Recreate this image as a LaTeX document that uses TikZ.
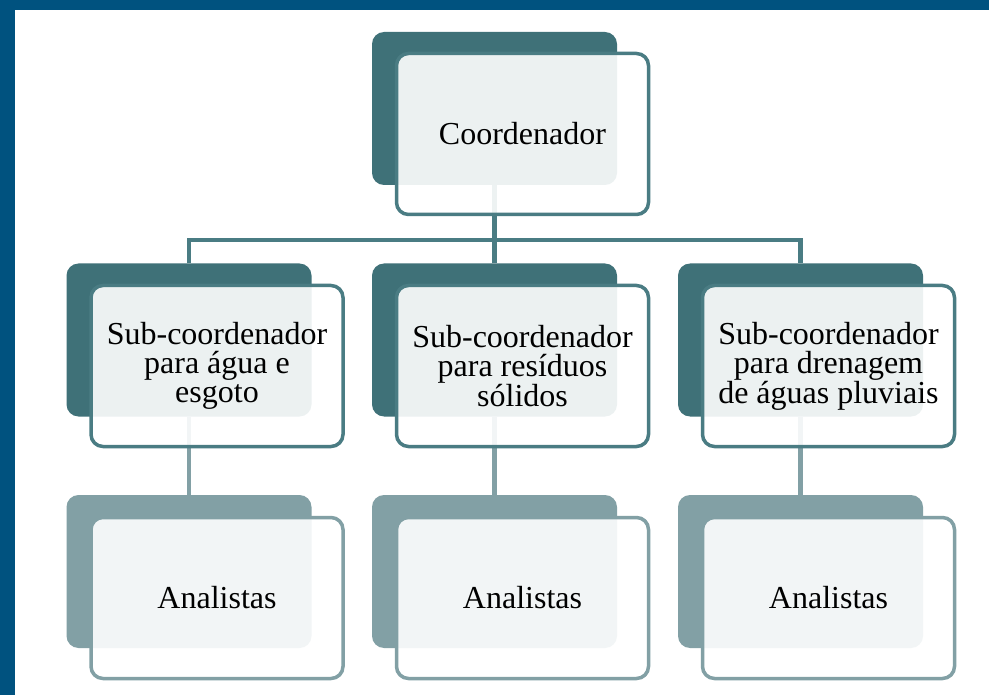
\documentclass[tikz,border=0pt]{standalone}
\usepackage{fontspec}
\setmainfont{Liberation Serif}
\pgfdeclarelayer{bg}
\pgfdeclarelayer{lines}
\pgfsetlayers{bg,lines,main}
\definecolor{frame}{HTML}{00527F}
\definecolor{teal}{HTML}{3F7178}
\definecolor{tealline}{HTML}{4A7C83}
\definecolor{grayteal}{HTML}{82A0A5}
\tikzset{
  backbox/.style={rectangle, rounded corners=12pt, fill=#1, draw=none,
    minimum width=245pt, minimum height=153pt, inner sep=0pt},
  frontbox/.style={rectangle, rounded corners=12pt, draw=#1, line width=3.5pt,
    fill=white, fill opacity=0.9, text opacity=1, text=black,
    minimum width=252pt, minimum height=161pt, inner sep=0pt, align=center,
    font=\fontsize{32}{29}\selectfont},
  barline/.style={draw=tealline, line width=4.5pt},
  lowline/.style={draw=grayteal, line width=4.5pt}
}
\begin{document}
\begin{tikzpicture}[x=1pt,y=-1pt]
\begin{pgfonlayer}{bg}
\fill[white] (0,0) rectangle (989,695);
\fill[frame] (0,0) rectangle (989,10);
\fill[frame] (0,0) rectangle (15,695);
\end{pgfonlayer}
\useasboundingbox (0,0) rectangle (989,695);
% coordinator
\node[backbox=teal] (cd) at (494.5,108.5) {};
\node[frontbox=tealline] (cf) at (522.5,134) {Coordenador};
% sub-coordinators
\node[backbox=teal] (s1d) at (189,340) {};
\node[frontbox=tealline] (s1f) at (217,366) {Sub-coordenador\\para água e\\esgoto};
\node[backbox=teal] (s2d) at (494.5,340) {};
\node[frontbox=tealline] (s2f) at (522.5,366) {Sub-coordenador\\para resíduos\\sólidos};
\node[backbox=teal] (s3d) at (800.5,340) {};
\node[frontbox=tealline] (s3f) at (828.5,366) {Sub-coordenador\\para drenagem\\de águas pluviais};
% analysts
\node[backbox=grayteal] (a1d) at (189,571.5) {};
\node[frontbox=grayteal] (a1f) at (217,598) {Analistas};
\node[backbox=grayteal] (a2d) at (494.5,571.5) {};
\node[frontbox=grayteal] (a2f) at (522.5,598) {Analistas};
\node[backbox=grayteal] (a3d) at (800.5,571.5) {};
\node[frontbox=grayteal] (a3f) at (828.5,598) {Analistas};
\coordinate (bus) at (494.5,240);
\begin{pgfonlayer}{lines}
\draw[barline] (cd.south) -- (bus);
\draw[barline] (s1d.north) -- (s1d.north |- bus) -- (s3d.north |- bus) -- (s3d.north);
\draw[barline] (s2d.north) -- (s2d.north |- bus);
\draw[lowline] (s1d.south) -- (a1d.north);
\draw[lowline] (s2d.south) -- (a2d.north);
\draw[lowline] (s3d.south) -- (a3d.north);
\end{pgfonlayer}
\end{tikzpicture}
\end{document}
